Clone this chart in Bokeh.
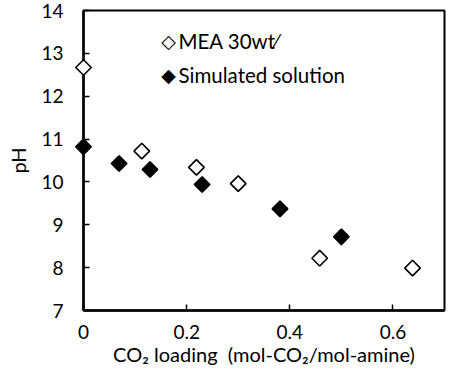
import math
from bokeh.plotting import figure
from bokeh.models import Label, FixedTicker, Range1d
from bokeh.embed import file_html
from bokeh.resources import INLINE

# Data
mea_x = [0.0, 0.113, 0.219, 0.300, 0.458, 0.638]
mea_y = [12.67, 10.72, 10.34, 9.96, 8.22, 7.99]
sim_x = [0.0, 0.069, 0.129, 0.230, 0.381, 0.500]
sim_y = [10.82, 10.43, 10.29, 9.94, 9.37, 8.72]
x_ticks = [0, 0.2, 0.4, 0.6]
x_tick_labels = ["0", "0.2", "0.4", "0.6"]
y_ticks = [7, 8, 9, 10, 11, 12, 13, 14]
legend_symbols = ["\u25c7", "\u25c6"]
legend_labels = ["MEA 30wt\u2044", "Simulated solution"]
x_label = "CO\u2082 loading\u00a0\u00a0(mol-CO\u2082/mol-amine)"
y_label = "pH"

FONT = "Lato"

p = figure(width=458, height=371, output_backend="svg", toolbar_location=None,
           x_range=Range1d(0, 0.7), y_range=Range1d(7, 14),
           min_border_left=83, min_border_right=14, min_border_top=10, min_border_bottom=61)
p.xgrid.visible = False
p.ygrid.visible = False
p.outline_line_color = "black"
p.outline_line_width = 2
p.background_fill_color = "white"
p.border_fill_color = "white"

for ax in (p.xaxis[0], p.yaxis[0]):
    ax.axis_line_width = 2.5
    ax.axis_line_color = "black"
    ax.major_tick_in = 6
    ax.major_tick_out = 0
    ax.major_tick_line_width = 1.5
    ax.minor_tick_line_color = None
    ax.major_label_text_font = FONT
    ax.major_label_text_font_size = "19px"
    ax.major_label_text_color = "black"
    ax.axis_label_text_font = FONT
    ax.axis_label_text_font_size = "20px"
    ax.axis_label_text_font_style = "normal"
    ax.axis_label_text_color = "black"

p.xaxis.ticker = FixedTicker(ticks=x_ticks)
p.xaxis.major_label_overrides = {t: l for t, l in zip(x_ticks, x_tick_labels)}
p.xaxis.major_label_standoff = 14
p.xaxis.axis_label = x_label
p.xaxis.axis_label_standoff = 0
p.yaxis.ticker = FixedTicker(ticks=y_ticks)
p.yaxis.major_label_standoff = 20
p.yaxis.axis_label = y_label
p.yaxis.axis_label_standoff = 8

p.scatter(mea_x, mea_y, marker="square", angle=math.pi / 4, size=11,
          fill_color="white", line_color="black", line_width=1.6, level="overlay")
p.scatter(sim_x, sim_y, marker="square", angle=math.pi / 4, size=11,
          fill_color="black", line_color="black", line_width=1.6, level="overlay")

# legend drawn as text rows
row_y = [270, 236]
for sym, lab, yy in zip(legend_symbols, legend_labels, row_y):
    p.add_layout(Label(x=85, y=yy, x_units="screen", y_units="screen", text=sym,
                       text_font="DejaVu Sans", text_font_size="19px",
                       text_align="center", text_baseline="middle", text_color="black"))
    p.add_layout(Label(x=95, y=yy, x_units="screen", y_units="screen", text=lab,
                       text_font=FONT, text_font_size="20.5px",
                       text_align="left", text_baseline="middle", text_color="black"))

open("out.html", "w").write(file_html(p, INLINE))
